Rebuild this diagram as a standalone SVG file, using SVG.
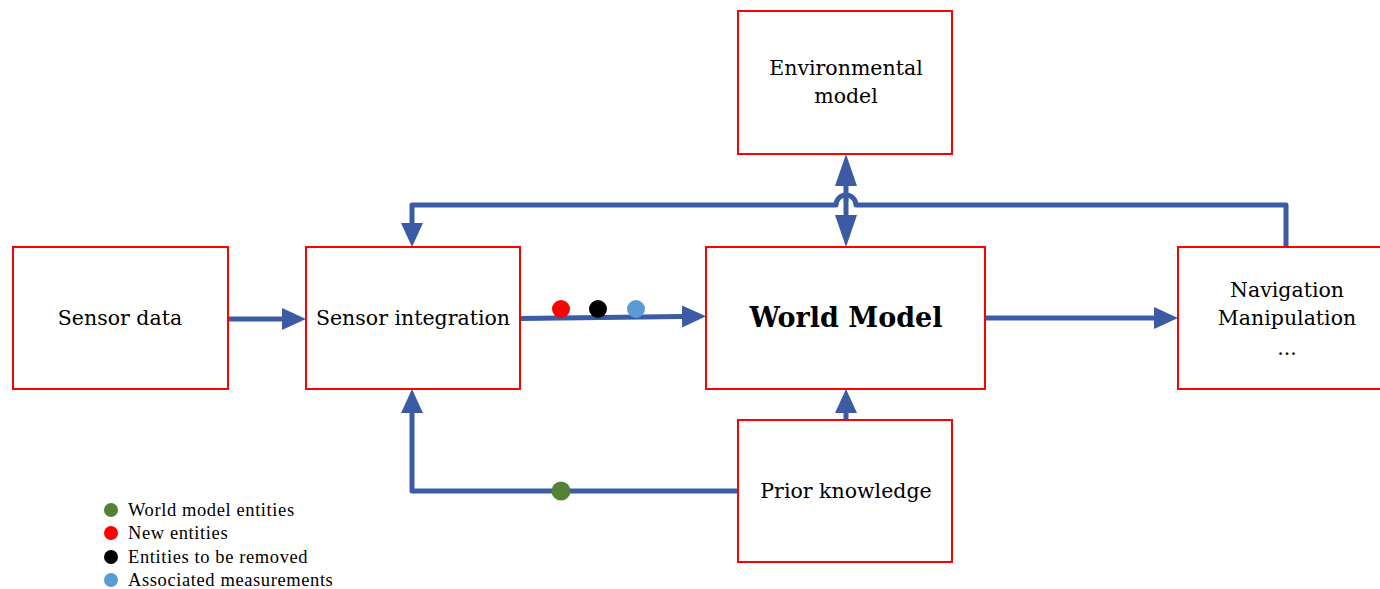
<svg xmlns="http://www.w3.org/2000/svg" width="1380" height="589" viewBox="0 0 1380 589">
  <defs>
    <style>
      .box { fill: #ffffff; stroke: #ff0000; stroke-width: 2; }
      .lbl { font-family: "DejaVu Serif", "Liberation Serif", serif; font-size: 20.5px; fill: #000; text-anchor: middle; }
      .big { font-family: "DejaVu Serif", "Liberation Serif", serif; font-size: 27px; font-weight: bold; fill: #000; text-anchor: middle; }
      .leg { font-family: "Liberation Serif", serif; font-size: 18.5px; letter-spacing: 0.6px; fill: #000; }
      .wire { fill: none; stroke: #3b5ba5; stroke-width: 5; stroke-linejoin: round; stroke-linecap: round; }
    </style>
    <!-- arrowhead base sits on the path end, tip extends beyond -->
    <marker id="arrow" markerUnits="userSpaceOnUse" markerWidth="26" markerHeight="24" refX="0" refY="12" orient="auto">
      <path d="M0,1 L24,12 L0,23 Z" fill="#3b5ba5"/>
    </marker>
    <marker id="arrow-long" markerUnits="userSpaceOnUse" markerWidth="34" markerHeight="24" refX="0" refY="12" orient="auto">
      <path d="M0,1 L32,12 L0,23 Z" fill="#3b5ba5"/>
    </marker>
  </defs>

  <g id="connectors">
    <!-- sensor data to integration -->
    <path class="wire" d="M228,319 L282,319" marker-end="url(#arrow)"/>
    <!-- integration to world model -->
    <path class="wire" d="M520,318.5 L682,316.5" marker-end="url(#arrow)"/>
    <!-- world model to navigation -->
    <path class="wire" d="M985,318 L1154,318" marker-end="url(#arrow)"/>
    <!-- feedback from navigation to integration, hopping over the vertical link -->
    <path class="wire" d="M1286,247 L1286,205 L856,205 A10,10 0 0 0 836,205 L412,205 L412,223" marker-end="url(#arrow)"/>
    <!-- environmental model <-> world model -->
    <path class="wire" d="M846,200 L846,186" marker-end="url(#arrow-long)"/>
    <path class="wire" d="M846,200 L846,215" marker-end="url(#arrow-long)"/>
    <!-- prior knowledge to world model -->
    <path class="wire" d="M846,420 L846,413" marker-end="url(#arrow)"/>
    <!-- prior knowledge to integration -->
    <path class="wire" d="M738,491 L412,491 L412,413" marker-end="url(#arrow)"/>
    <!-- entity markers on the links -->
    <circle cx="561" cy="309" r="9" fill="#ff0000"/>
    <circle cx="598" cy="309" r="9" fill="#000000"/>
    <circle cx="636" cy="309" r="9" fill="#5b9bd5"/>
    <circle cx="561" cy="491" r="9.5" fill="#548235"/>
  </g>

  <g id="sensor-data">
    <rect class="box" x="13" y="247" width="215" height="142"/>
    <text class="lbl" x="120" y="325">Sensor data</text>
  </g>
  <g id="sensor-integration">
    <rect class="box" x="306" y="247" width="214" height="142"/>
    <text class="lbl" x="413" y="325">Sensor integration</text>
  </g>
  <g id="world-model">
    <rect class="box" x="706" y="247" width="279" height="142"/>
    <text class="big" x="846" y="327">World Model</text>
  </g>
  <g id="navigation">
    <rect class="box" x="1178" y="247" width="215" height="142"/>
    <text class="lbl" x="1287" y="297">Navigation</text>
    <text class="lbl" x="1287" y="325">Manipulation</text>
    <text class="lbl" x="1287" y="355">...</text>
  </g>
  <g id="environmental-model">
    <rect class="box" x="738" y="11" width="214" height="143"/>
    <text class="lbl" x="846" y="75">Environmental</text>
    <text class="lbl" x="846" y="103">model</text>
  </g>
  <g id="prior-knowledge">
    <rect class="box" x="738" y="420" width="214" height="142"/>
    <text class="lbl" x="846" y="498">Prior knowledge</text>
  </g>

  <g id="legend">
    <circle cx="111" cy="510" r="7" fill="#548235"/>
    <circle cx="111" cy="533" r="7" fill="#ff0000"/>
    <circle cx="111" cy="557" r="7" fill="#000000"/>
    <circle cx="111" cy="580" r="7" fill="#5b9bd5"/>
    <text class="leg" x="128" y="516">World model entities</text>
    <text class="leg" x="128" y="539">New entities</text>
    <text class="leg" x="128" y="563">Entities to be removed</text>
    <text class="leg" x="128" y="586">Associated measurements</text>
  </g>
</svg>
